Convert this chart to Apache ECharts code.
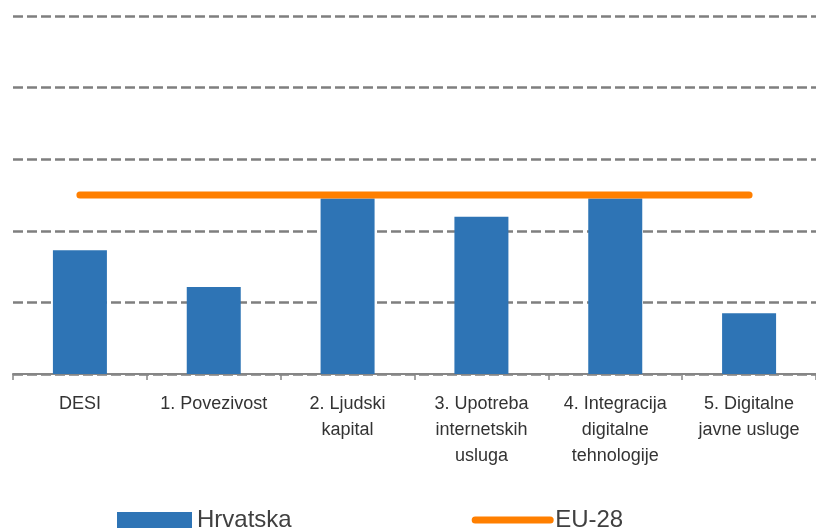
<!DOCTYPE html>
<html>
<head>
<meta charset="utf-8">
<script src="https://cdn.jsdelivr.net/npm/echarts@6/dist/echarts.min.js"></script>
<style>
html,body{margin:0;padding:0;background:#fff;}
#c{width:816px;height:531px;}
</style>
</head>
<body>
<div id="c"></div>
<script>
var categories = ['DESI', '1. Povezivost', '2. Ljudski\nkapital', '3. Upotreba\ninternetskih\nusluga', '4. Integracija\ndigitalne\ntehnologije', '5. Digitalne\njavne usluge'];
var hrvatska = [0.346, 0.243, 0.49, 0.439, 0.49, 0.17];
var eu28 = [0.5, 0.5, 0.5, 0.5, 0.5, 0.5];
var seriesNames = ['Hrvatska', 'EU-28'];

var chart = echarts.init(document.getElementById('c'), null, {renderer: 'canvas'});
chart.setOption({
  animation: false,
  backgroundColor: '#ffffff',
  grid: {left: 13, right: -4, top: 16, bottom: 157, containLabel: false},
  legend: {
    left: 117, top: 508, padding: 0, itemGap: 180, itemTextGap: 5,
    itemWidth: 75, itemHeight: 16,
    textStyle: {fontFamily: 'Liberation Sans', fontSize: 24, color: '#404040', lineHeight: 24},
    data: [
      {name: seriesNames[0], icon: 'rect'},
      {name: seriesNames[1], itemStyle: {opacity: 0}, lineStyle: {color: '#FF7F00', width: 7, cap: 'round', opacity: 1}}
    ]
  },
  xAxis: {
    type: 'category',
    data: categories,
    boundaryGap: true,
    axisLine: {show: true, lineStyle: {color: '#868686', width: 2}},
    axisTick: {show: true, length: 6, lineStyle: {color: '#868686', width: 1.5}},
    axisLabel: {
      interval: 0, margin: 17,
      fontFamily: 'Liberation Sans', fontSize: 18, lineHeight: 26,
      color: '#333333', align: 'center'
    },
    splitLine: {show: false}
  },
  yAxis: {
    type: 'value', min: 0, max: 1, interval: 0.2,
    axisLine: {show: false}, axisTick: {show: false}, axisLabel: {show: false},
    splitLine: {show: true, lineStyle: {color: '#7f7f7f', width: 2.5, type: [10, 4]}}
  },
  series: [
    {
      name: seriesNames[0], type: 'bar', data: hrvatska, barWidth: 54,
      itemStyle: {color: '#2E74B5'}, z: 2
    },
    {
      name: seriesNames[1], type: 'line', data: eu28, symbol: 'none', showSymbol: false,
      lineStyle: {color: '#FF7F00', width: 7, cap: 'round'},
      itemStyle: {color: '#FF7F00'}, z: 3
    }
  ]
});
</script>
</body>
</html>
